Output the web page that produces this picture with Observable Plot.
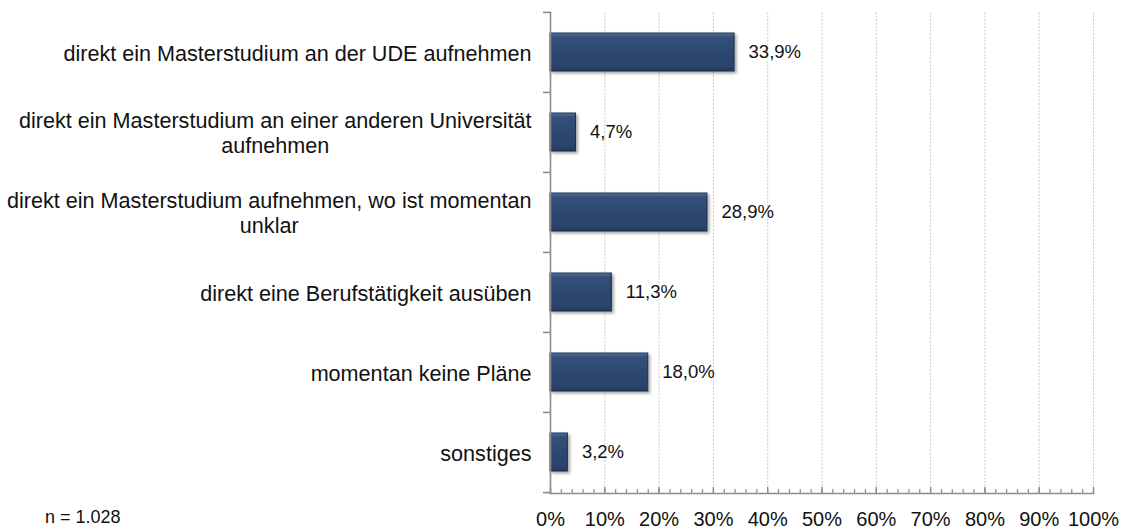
<!DOCTYPE html>
<html>
<head>
<meta charset="utf-8">
<script src="https://cdn.jsdelivr.net/npm/d3@7"></script>
<script src="https://cdn.jsdelivr.net/npm/@observablehq/plot@0.6"></script>
<style>
  html, body { margin: 0; padding: 0; background: #fff; }
  #wrap { position: relative; width: 1121px; height: 528px; font-family: "Liberation Sans", Arial, sans-serif; }
  #caption { position: absolute; left: 45px; top: 507px; font-size: 18px; color: #111; }
</style>
</head>
<body>
<div id="wrap">
  <div id="chart"></div>
  <div id="caption">n = 1.028</div>
</div>
<script>
// ---- data ----
const categories = [
  "direkt ein Masterstudium an der UDE aufnehmen",
  "direkt ein Masterstudium an einer anderen Universität aufnehmen",
  "direkt ein Masterstudium aufnehmen, wo ist momentan unklar",
  "direkt eine Berufstätigkeit ausüben",
  "momentan keine Pläne",
  "sonstiges"
];
const labelLines = [
  ["direkt ein Masterstudium an der UDE aufnehmen"],
  ["direkt ein Masterstudium an einer anderen Universität", "aufnehmen"],
  ["direkt ein Masterstudium aufnehmen, wo ist momentan", "unklar"],
  ["direkt eine Berufstätigkeit ausüben"],
  ["momentan keine Pläne"],
  ["sonstiges"]
];
const values = [33.9, 4.7, 28.9, 11.3, 18.0, 3.2];
const majorTicks = [0, 10, 20, 30, 40, 50, 60, 70, 80, 90, 100];
const minorTicks = d3.range(0, 101, 2);
const gridTicks = [10, 20, 30, 40, 50, 60, 70, 80, 90, 100];

// ---- layout ----
const W = 1121, H = 528;
const mL = 550, mR = 28, mT = 12, mB = 35;
const frameH = H - mT - mB;
const step = frameH / categories.length;
const pxPerUnit = (W - mL - mR) / 100;
const FONT = "'Liberation Sans', Arial, sans-serif";
const labelSize = 21.6;
const labelRight = 531; // right edge of label block in pixels

// measure label blocks so multi-line labels are centered within a right-aligned block
const ctx = document.createElement("canvas").getContext("2d");
ctx.font = `${labelSize}px 'Liberation Sans'`;
const rows = categories.map((c, i) => {
  const w = d3.max(labelLines[i], (s) => ctx.measureText(s).width);
  const centerPx = labelRight - w / 2;
  return {
    category: c,
    value: values[i],
    text: labelLines[i].join("\n"),
    lx: (centerPx - mL) / pxPerUnit
  };
});

const axisColor = "#8c8c8c";

const chart = Plot.plot({
  width: W,
  height: H,
  marginLeft: mL,
  marginRight: mR,
  marginTop: mT,
  marginBottom: mB,
  style: { fontFamily: FONT, background: "#fff", overflow: "visible" },
  x: { domain: [0, 100], axis: null },
  y: { domain: categories, axis: null, paddingInner: 0.52, paddingOuter: 0.26 },
  marks: [
    // gridlines
    Plot.ruleX(gridTicks, { stroke: "#cacaca", strokeWidth: 1, strokeDasharray: "2,1.5" }),
    // bars
    Plot.barX(rows, {
      x: "value",
      y: "category",
      fill: "url(#barGrad)",
      stroke: "#1d3050",
      strokeWidth: 1,
      imageFilter: "drop-shadow(2px 2px 1.5px rgba(0,0,0,0.35))"
    }),
    // value labels
    Plot.text(rows, {
      x: "value",
      y: "category",
      text: (d) => d3.format(".1f")(d.value).replace(".", ",") + "%",
      textAnchor: "start",
      dx: 14,
      fontSize: 18.5,
      fill: "#111"
    }),
    // category labels
    Plot.text(rows, {
      x: "lx",
      y: "category",
      text: "text",
      textAnchor: "middle",
      lineHeight: 1.17,
      fontSize: labelSize,
      fill: "#111"
    }),
    // y axis line
    Plot.frame({ anchor: "left", stroke: axisColor, strokeWidth: 1.6 }),
    // x axis line
    Plot.frame({ anchor: "bottom", stroke: axisColor, strokeWidth: 1.6 }),
    // y boundary ticks
    Plot.ruleY(categories, { y: (d) => d, dy: -step / 2, x1: 0, x2: 0, insetLeft: -7, stroke: axisColor, strokeWidth: 1.6 }),
    Plot.ruleY(categories.slice(-1), { y: (d) => d, dy: step / 2, x1: 0, x2: 0, insetLeft: -7, stroke: axisColor, strokeWidth: 1.6 }),
    // x minor ticks (pointing up)
    Plot.ruleX(minorTicks, { stroke: axisColor, strokeWidth: 1.2, insetTop: frameH - 4 }),
    // x major ticks
    Plot.ruleX(majorTicks, { stroke: axisColor, strokeWidth: 1.4, insetTop: frameH - 6 }),
    // x tick labels
    Plot.axisX(majorTicks, {
      anchor: "bottom",
      tickSize: 0,
      tickPadding: 18,
      fontSize: 20,
      tickFormat: (d) => d + "%",
      fill: "#111",
      label: null
    })
  ]
});

// gradient for bars
const ns = "http://www.w3.org/2000/svg";
const defs = document.createElementNS(ns, "defs");
defs.innerHTML = `
  <linearGradient id="barGrad" x1="0" y1="0" x2="0" y2="1">
    <stop offset="0" stop-color="#5a76a0"/>
    <stop offset="0.1" stop-color="#34507a"/>
    <stop offset="0.5" stop-color="#2d4870"/>
    <stop offset="0.9" stop-color="#29436a"/>
    <stop offset="1" stop-color="#1f355a"/>
  </linearGradient>`;
chart.insertBefore(defs, chart.firstChild);

document.getElementById("chart").appendChild(chart);
</script>
</body>
</html>
